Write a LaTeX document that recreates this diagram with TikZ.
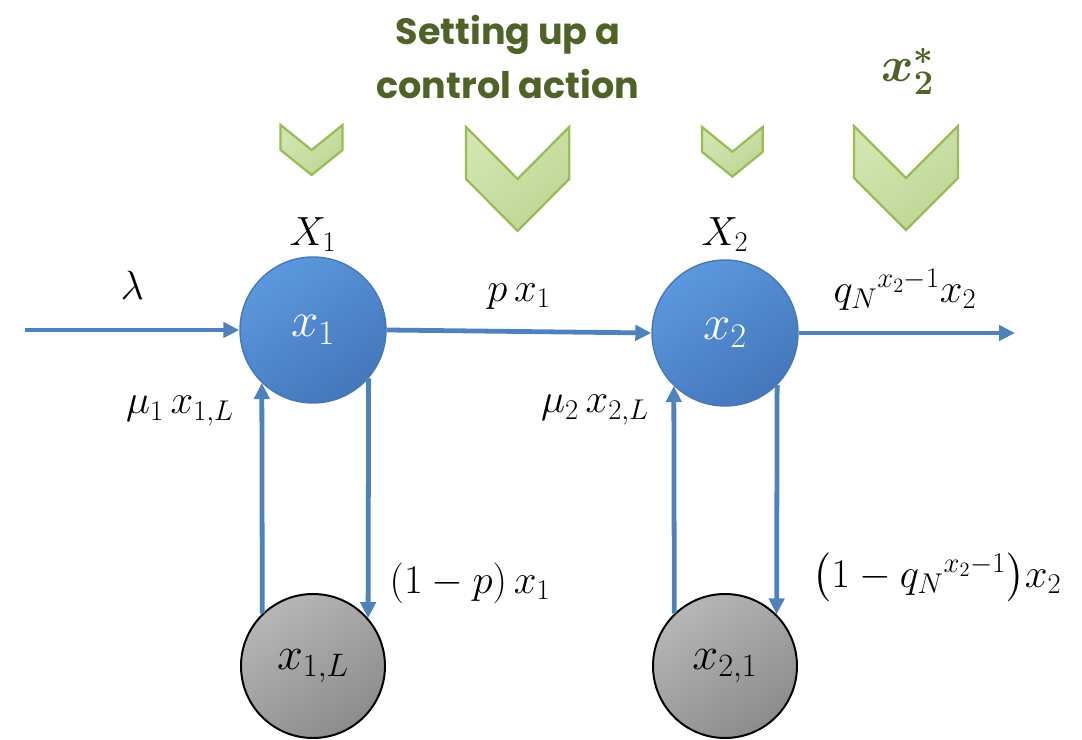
\RequirePackage{fix-cm}
\documentclass[tikz,border=0pt]{standalone}
\usepackage{amsmath,amssymb,bm}
\usepackage{fontspec}
\setsansfont{Poppins}
\usetikzlibrary{arrows.meta,positioning,calc}
\definecolor{flowblue}{RGB}{79,129,189}
\definecolor{queuelight}{RGB}{92,152,222}
\definecolor{queuedark}{RGB}{68,118,186}
\definecolor{queueedge}{RGB}{70,120,180}
\definecolor{chevlight}{RGB}{210,229,176}
\definecolor{chevdark}{RGB}{190,214,150}
\definecolor{chevedge}{RGB}{155,187,89}
\definecolor{olivetext}{RGB}{79,98,40}
\definecolor{lostlight}{RGB}{182,182,182}
\definecolor{lostdark}{RGB}{140,140,140}

\begin{document}
\begin{tikzpicture}[x=1cm,y=1cm,
  flow/.style={-{Triangle[length=4mm,width=3.8mm]},draw=flowblue,line width=3.4pt},
  queue/.style={circle,draw=queueedge,line width=1pt,minimum size=3.65cm,inner sep=0pt,
    top color=queuelight,bottom color=queuedark,shading angle=35,text=white,
    font=\fontsize{35}{40}\selectfont},
  lost/.style={circle,draw=black,line width=1.4pt,minimum size=3.6cm,inner sep=0pt,
    top color=lostlight,bottom color=lostdark,shading angle=35,
    font=\fontsize{33}{38}\selectfont},
  chev/.style={draw=chevedge,line width=1.6pt,top color=chevlight,bottom color=chevdark,
    shading angle=40},
  lbl/.style={font=\fontsize{29}{34}\selectfont,inner sep=0pt},
  title/.style={font=\sffamily\bfseries\fontsize{26}{39}\selectfont,text=olivetext,align=center}]
\useasboundingbox (0,0) rectangle (27.05,18.475);

% Control actions on top.
\node[title] (action) at (12.7,17.05) {Setting up a\\control action};
\node[font=\fontsize{35}{40}\selectfont,text=olivetext,inner sep=0pt] (target) at (22.7,16.7)
  {$\bm{x}_{\bm{2}}^{\bm{*}}$};
\foreach \cx/\ty/\hw/\dp in {7.79/15.35/0.775/0.625,12.94/15.3/1.29/1.3,
  18.31/15.3/0.76/0.62,22.65/15.325/1.3/1.3}
  \draw[chev] ({\cx-\hw},\ty) -- (\cx,{\ty-\dp}) -- ({\cx+\hw},\ty) -- ({\cx+\hw},{\ty-\dp})
    -- (\cx,{\ty-2*\dp}) -- ({\cx-\hw},{\ty-\dp}) -- cycle;

% Two stations and their loss queues.
\node[queue] (x1) at (7.825,10.225) {$x_1$};
\node[queue] (x2) at (18.125,10.15) {$x_2$};
\node[lost] (x1L) at (7.825,1.825) {$x_{1,L}$};
\node[lost] (x21) at (18.125,1.825) {$x_{2,1}$};
\node[lbl] (X1) at (7.825,12.6) {$X_1$};
\node[lbl] (X2) at (18.125,12.6) {$X_2$};

\coordinate (in) at (0.625,10.225);
\coordinate (out) at (25.375,10.15);
\draw[flow] (in) -- (x1.west) node[lbl,midway,above=0.7cm] (lam) {$\lambda$};
\draw[flow] (x1.east) -- (x2.west) node[lbl,midway,above=0.5cm] (px1) {$p\,x_1$};
\draw[flow] (x2.east) -- (out);
\node[lbl] (qout) at (22.625,11.225) {${q_N}^{x_2-1}x_2$};

% Feedback loops.
\draw[flow] (x1L.134) -- (x1.226);
\draw[flow] (x1.-41) -- (x1L.41);
\draw[flow] (x21.134) -- (x2.226);
\draw[flow] (x2.-45) -- (x21.45);
\node[lbl] (mu1) at (4.5,8.2) {$\mu_1\,x_{1,L}$};
\node[lbl] (mu2) at (14.875,8.225) {$\mu_2\,x_{2,L}$};
\node[lbl] (back1) at (11.75,3.9) {$(1-p)\,x_1$};
\node[lbl] (back2) at (23.425,4.05) {$\bigl(1-{q_N}^{x_2-1}\bigr)x_2$};
\end{tikzpicture}
\end{document}
